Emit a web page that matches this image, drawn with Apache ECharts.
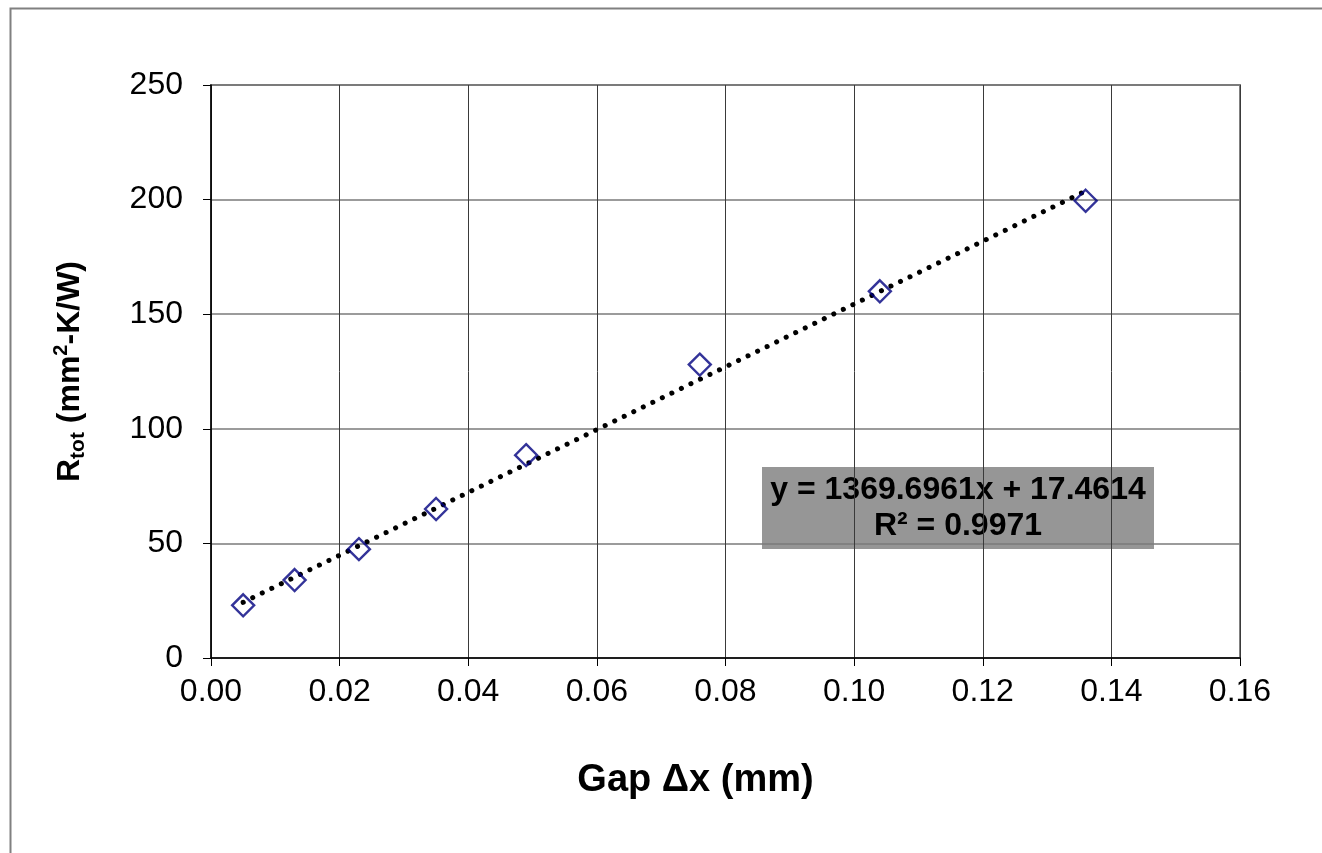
<!DOCTYPE html>
<html>
<head>
<meta charset="utf-8">
<script src="https://cdn.jsdelivr.net/npm/echarts@6/dist/echarts.min.js"></script>
<style>
  html, body { margin: 0; padding: 0; background: #fff; }
  #chart { width: 1322px; height: 853px; }
</style>
</head>
<body>
<div id="chart"></div>
<script>
// measured points: gap (mm) vs total resistance (mm2-K/W)
const gapMm = [0.005, 0.013, 0.023, 0.035, 0.049, 0.076, 0.104, 0.136]
const rTot = [23, 34, 47.5, 65, 88.5, 128, 160, 199.5]

// trendline as printed on the chart
const slope = 1369.6961
const intercept = 17.4614
const rSquared = '0.9971'

const xTicks = { min: 0, max: 0.16, step: 0.02 }
const yTicks = { min: 0, max: 250, step: 50 }

const font = '"Liberation Sans", Arial, sans-serif'

const chart = echarts.init(document.getElementById('chart'))

const xMin = Math.min(...gapMm)
const xMax = Math.max(...gapMm)
const trend = [
  [xMin, slope * xMin + intercept],
  [xMax, slope * xMax + intercept]
]

chart.setOption({
  animation: false,
  backgroundColor: '#fff',
  grid: {
    left: 211, right: 82, top: 85, bottom: 195,
    show: true,
    borderColor: '#808080',
    borderWidth: 2
  },
  xAxis: {
    type: 'value',
    min: xTicks.min, max: xTicks.max, interval: xTicks.step,
    name: 'Gap \u0394x (mm)',
    nameLocation: 'middle',
    nameGap: 104,
    nameTextStyle: {
      fontFamily: font, fontSize: 38, fontWeight: 'bold', color: '#000',
      padding: [0, 60, 0, 0]
    },
    axisLine: { lineStyle: { color: '#000', width: 1.5 } },
    axisTick: { show: true, inside: false, length: 8, lineStyle: { color: '#000' } },
    axisLabel: {
      margin: 18, fontFamily: font, fontSize: 32, color: '#000',
      formatter: v => v.toFixed(2)
    },
    splitLine: { show: true, lineStyle: { color: '#3a3a3a', width: 1 } }
  },
  yAxis: {
    type: 'value',
    min: yTicks.min, max: yTicks.max, interval: yTicks.step,
    name: '{b|R}{s|tot}{b| (mm}{p|2}{b|-K/W)}',
    nameLocation: 'middle',
    nameRotate: 90,
    nameGap: 122,
    nameTextStyle: {
      fontFamily: font, color: '#000',
      rich: {
        b: { fontFamily: font, fontSize: 32, fontWeight: 'bold', color: '#000', lineHeight: 38 },
        s: { fontFamily: font, fontSize: 21, fontWeight: 'bold', color: '#000', verticalAlign: 'bottom', lineHeight: 38 },
        p: { fontFamily: font, fontSize: 20, fontWeight: 'bold', color: '#000', verticalAlign: 'top', lineHeight: 38 }
      }
    },
    axisLine: { show: true, lineStyle: { color: '#000', width: 1.5 } },
    axisTick: { show: true, inside: false, length: 8, lineStyle: { color: '#000' } },
    axisLabel: { margin: 28, fontFamily: font, fontSize: 32, color: '#000' },
    splitLine: { show: true, lineStyle: { color: '#7a7a7a', width: 1.5 } }
  },
  series: [
    {
      name: 'trend',
      type: 'line',
      data: trend,
      symbol: 'none',
      silent: true,
      z: 2,
      lineStyle: { color: '#000', width: 5, type: [0.1, 10.5], cap: 'round' }
    },
    {
      name: 'R_tot',
      type: 'scatter',
      data: gapMm.map((x, i) => [x, rTot[i]]),
      symbol: 'diamond',
      symbolSize: 22,
      z: 3,
      itemStyle: { color: 'rgba(0,0,0,0)', borderColor: '#000080', borderWidth: 2.4 }
    }
  ],
  graphic: [
    {
      type: 'rect',
      left: 8, top: 6,
      shape: { width: 1400, height: 900 },
      style: { fill: 'none', stroke: '#808080', lineWidth: 2 },
      silent: true
    },
    {
      type: 'group',
      left: 762, top: 467,
      children: [
        {
          type: 'rect',
          shape: { width: 392, height: 82 },
          style: { fill: '#969696' }
        },
        {
          type: 'text',
          x: 196, y: 41,
          style: {
            text: 'y = ' + slope.toFixed(4) + 'x + ' + intercept.toFixed(4) + '\nR\u00b2 = ' + rSquared,
            font: 'bold 32px ' + font,
            fill: '#000',
            align: 'center',
            verticalAlign: 'middle',
            lineHeight: 36
          }
        }
      ]
    }
  ]
})
</script>
</body>
</html>
